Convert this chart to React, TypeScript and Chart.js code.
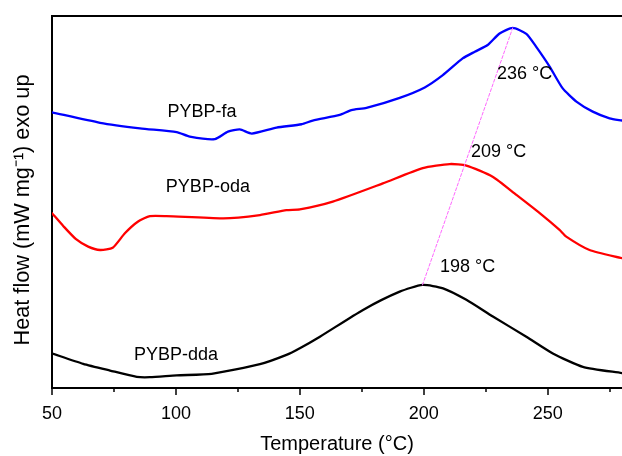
import React, { useEffect, useRef } from "react";
import { Chart, registerables } from "chart.js";

Chart.register(...registerables);

// ---- Data (temperature in °C, heat flow in arbitrary offset units) ----
const faTemp = [50, 69.4, 85.5, 100.3, 105.6, 115.7, 121, 125.8, 130.6, 140.6, 150.7, 155.2, 166.1, 170.8, 176.9, 190.3, 200.4, 207.7, 215.7, 220.6, 225.8, 230.6, 235.9, 241.4, 245.4, 250.8, 256, 261.6, 268.2, 275, 280];
const faHeat = [74.1, 71.3, 69.8, 68.8, 67.6, 66.9, 68.9, 69.5, 68.4, 70.0, 70.9, 71.9, 73.4, 74.7, 75.3, 78.0, 80.8, 84.1, 88.6, 90.4, 92.2, 95.3, 96.8, 95.2, 91.7, 86.4, 80.6, 77.0, 74.3, 72.5, 71.9];

const odaTemp = [50, 54.6, 59.7, 64.6, 69.4, 74.5, 79.4, 84.6, 89.5, 96.2, 119.1, 133.9, 144.6, 150, 163.3, 183.5, 199.6, 210.5, 217.2, 227.8, 237.4, 246.8, 254.8, 257.5, 266.9, 280];
const odaHeat = [47.0, 43.5, 40.0, 38.0, 37.1, 37.7, 41.6, 44.7, 46.2, 46.2, 45.6, 46.5, 47.8, 48.0, 50.1, 55.0, 59.1, 60.2, 59.8, 56.8, 51.9, 47.0, 42.5, 40.7, 37.1, 34.9];

const ddaTemp = [50, 62.6, 73.4, 84.2, 89.5, 100.3, 114.4, 133.9, 144.6, 150, 158.1, 175.5, 190.3, 199.5, 207.8, 217.2, 227.9, 241.4, 252.1, 264.2, 280];
const ddaHeat = [9.3, 6.5, 4.7, 3.0, 2.9, 3.4, 3.8, 6.4, 8.9, 10.7, 13.8, 21.0, 25.9, 27.7, 26.8, 23.7, 19.2, 13.8, 9.3, 5.7, 4.0];

// Peak guide line (from dda peak to fa peak)
const peakTemp = [199.5, 235.9];
const peakHeat = [27.7, 96.8];

const xTicks = [50, 100, 150, 200, 250];
const xMinorTicks = [75, 125, 175, 225, 275];

const seriesLabels = ["PYBP-fa", "PYBP-oda", "PYBP-dda"];
const seriesLabelTemp = [110.5, 112.9, 100];
const seriesLabelHeat = [74.2, 54.0, 8.9];

const peakLabels = ["236 °C", "209 °C", "198 °C"];
const peakLabelTemp = [240.7, 230.2, 217.7];
const peakLabelHeat = [84.4, 63.4, 32.5];

const yTitle = "Heat flow (mW mg⁻¹) exo up";
const xTitle = "Temperature (°C)";

const FONT = "'Liberation Sans', Arial, Helvetica, sans-serif";

const pts = (xs: number[], ys: number[]) => xs.map((x, i) => ({ x, y: ys[i] }));

const decorPlugin = {
  id: "decor",
  afterDraw(chart: any) {
    const { ctx, chartArea } = chart;
    const xs = chart.scales.x;
    const ys = chart.scales.y;
    ctx.save();
    // top frame line
    ctx.strokeStyle = "#000";
    ctx.lineWidth = 2;
    ctx.beginPath();
    ctx.moveTo(chartArea.left - 1, chartArea.top);
    ctx.lineTo(chartArea.right, chartArea.top);
    ctx.stroke();
    // x ticks (outward)
    ctx.lineWidth = 1.5;
    const b = chartArea.bottom;
    xTicks.forEach((v) => {
      const px = Math.round(xs.getPixelForValue(v));
      ctx.beginPath();
      ctx.moveTo(px, b);
      ctx.lineTo(px, b + 7);
      ctx.stroke();
    });
    xMinorTicks.forEach((v) => {
      const px = Math.round(xs.getPixelForValue(v));
      ctx.beginPath();
      ctx.moveTo(px, b);
      ctx.lineTo(px, b + 4);
      ctx.stroke();
    });
    // labels
    ctx.fillStyle = "#000";
    ctx.font = `18px ${FONT}`;
    ctx.textAlign = "center";
    ctx.textBaseline = "middle";
    seriesLabels.forEach((t, i) => {
      ctx.fillText(t, xs.getPixelForValue(seriesLabelTemp[i]), ys.getPixelForValue(seriesLabelHeat[i]));
    });
    peakLabels.forEach((t, i) => {
      ctx.fillText(t, xs.getPixelForValue(peakLabelTemp[i]), ys.getPixelForValue(peakLabelHeat[i]));
    });
    // y-axis title (rotated)
    ctx.save();
    ctx.translate(23, (chartArea.top + chartArea.bottom) / 2 + 8);
    ctx.rotate(-Math.PI / 2);
    ctx.font = `21.7px ${FONT}`;
    ctx.fillText(yTitle, 0, 0);
    ctx.restore();
    ctx.restore();
  },
};

export default function App() {
  const ref = useRef<HTMLCanvasElement | null>(null);
  useEffect(() => {
    if (!ref.current) return;
    const chart = new Chart(ref.current, {
      type: "line",
      data: {
        datasets: [
          {
            label: "peak",
            data: pts(peakTemp, peakHeat),
            borderColor: "#ff66ff",
            borderWidth: 1,
            borderDash: [3, 2],
            pointRadius: 0,
            fill: false,
            tension: 0,
          },
          {
            label: "PYBP-fa",
            data: pts(faTemp, faHeat),
            borderColor: "#0000ff",
            borderWidth: 2.3,
            pointRadius: 0,
            fill: false,
          },
          {
            label: "PYBP-oda",
            data: pts(odaTemp, odaHeat),
            borderColor: "#ff0000",
            borderWidth: 2.3,
            pointRadius: 0,
            fill: false,
          },
          {
            label: "PYBP-dda",
            data: pts(ddaTemp, ddaHeat),
            borderColor: "#000000",
            borderWidth: 2.3,
            pointRadius: 0,
            fill: false,
          },
        ],
      },
      options: {
        animation: false,
        responsive: false,
        maintainAspectRatio: false,
        layout: { padding: { top: 16, right: 0, bottom: 0, left: 0 } },
        plugins: { legend: { display: false }, tooltip: { enabled: false } },
        elements: { line: { tension: 0.2, borderJoinStyle: "round", borderCapStyle: "round" } },
        scales: {
          x: {
            type: "linear",
            min: 50,
            max: 280,
            afterBuildTicks: (s: any) => {
              s.ticks = xTicks.map((v) => ({ value: v }));
            },
            afterFit: (s: any) => {
              s.height = 68;
            },
            grid: { display: false, drawTicks: false },
            border: { display: true, color: "#000", width: 2 },
            ticks: {
              color: "#000",
              font: { family: FONT, size: 18 },
              padding: 15,
              maxRotation: 0,
              autoSkip: false,
            },
            title: {
              display: true,
              text: xTitle,
              color: "#000",
              font: { family: FONT, size: 20 },
              padding: { top: 0, bottom: 0 },
            },
          },
          y: {
            type: "linear",
            min: 0,
            max: 100,
            afterFit: (s: any) => {
              s.width = 52;
            },
            grid: { display: false, drawTicks: false },
            border: { display: true, color: "#000", width: 2 },
            ticks: { display: false },
            title: { display: false },
          },
        },
      },
      plugins: [decorPlugin],
    });
    return () => chart.destroy();
  }, []);
  return (
    <div style={{ position: "fixed", left: 0, top: 0, width: 622, height: 456, background: "#fff" }}>
      <canvas ref={ref} width={622} height={456} style={{ width: 622, height: 456, display: "block" }} />
    </div>
  );
}
